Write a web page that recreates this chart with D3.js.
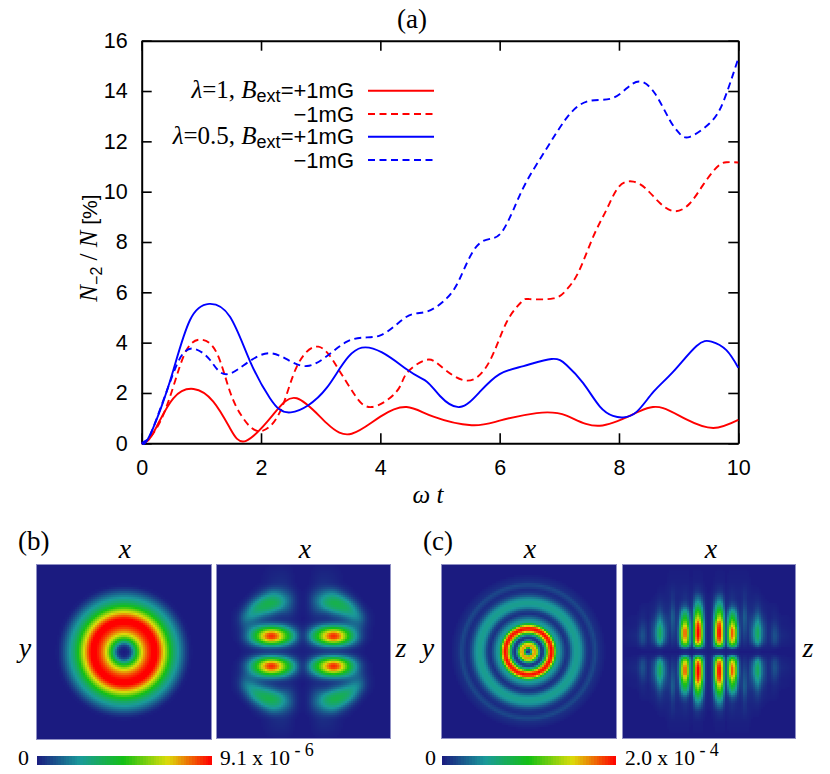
<!DOCTYPE html>
<html>
<head>
<meta charset="utf-8">
<style>
  html, body { margin: 0; padding: 0; background: #fff; }
  svg { display: block; }
</style>
</head>
<body>
<svg id="chart" width="830" height="774"></svg>
<script src="https://cdn.jsdelivr.net/npm/d3@7"></script>
<script>
// panel (a): population curves
const redSolidT = [0, 0.1, 0.25, 0.53, 0.87, 1.2, 1.48, 1.75, 2.2, 2.6, 3.1, 3.52, 4, 4.44, 4.89, 5.53, 6, 6.62, 7.12, 7.68, 8.35, 8.74, 9.13, 9.58, 10];
const redSolidV = [0, 0.1, 0.66, 1.79, 2.16, 1.66, 0.6, 0.1, 1.13, 1.79, 0.8, 0.38, 1.06, 1.44, 1.06, 0.72, 0.9, 1.2, 1.1, 0.7, 1.28, 1.4, 0.95, 0.61, 0.93];

const redDashT = [0, 0.1, 0.31, 0.53, 0.75, 1, 1.26, 1.48, 1.7, 1.98, 2.32, 2.6, 2.96, 3.27, 3.55, 3.85, 4.27, 4.44, 4.75, 5, 5.45, 5.84, 6.12, 6.37, 6.5, 6.9, 7.12, 7.32, 7.57, 7.79, 8, 8.24, 8.46, 8.69, 8.94, 9.19, 9.41, 9.64, 9.8, 10];
const redDashV = [0, 0.12, 0.86, 2.25, 3.7, 4.12, 3.58, 2.05, 1, 0.48, 1.26, 3.05, 3.84, 3.05, 2, 1.44, 2.05, 2.78, 3.3, 3.09, 2.49, 3.3, 4.83, 5.63, 5.73, 5.76, 6.1, 6.8, 8.22, 9.28, 10.2, 10.4, 10.1, 9.54, 9.22, 9.54, 10.27, 10.97, 11.17, 11.16];

const blueSolidT = [0, 0.1, 0.31, 0.53, 0.81, 1.13, 1.48, 1.82, 2.15, 2.5, 3.1, 3.69, 4.44, 4.78, 5, 5.33, 5.67, 6, 6.4, 6.87, 7.12, 7.4, 7.68, 7.9, 8.07, 8.3, 8.58, 8.91, 9.3, 9.55, 9.8, 10];
const blueSolidV = [0, 0.15, 1.32, 2.9, 4.9, 5.54, 5.03, 3.24, 1.79, 1.23, 2.2, 3.8, 2.94, 2.45, 1.88, 1.44, 2.05, 2.75, 3.07, 3.35, 3.11, 2.39, 1.46, 1.09, 1.03, 1.26, 2.05, 2.85, 3.87, 4.04, 3.7, 3];

const blueDashT = [0, 0.08, 0.2, 0.53, 0.7, 0.87, 1.15, 1.48, 2.12, 2.77, 3.44, 3.99, 4.44, 4.78, 5.11, 5.335, 5.61, 5.89, 6.06, 6.23, 6.45, 6.79, 7.12, 7.46, 7.85, 8.13, 8.35, 8.6, 8.85, 9.02, 9.19, 9.52, 9.75, 10];
const blueDashV = [0, 0.12, 0.66, 2.78, 3.58, 3.76, 3.3, 2.77, 3.58, 3.07, 4.04, 4.28, 5.03, 5.23, 5.76, 6.56, 7.82, 8.15, 8.48, 9.28, 10.4, 11.73, 12.92, 13.58, 13.69, 14.11, 14.38, 13.91, 12.85, 12.3, 12.18, 12.72, 13.58, 15.3];

const xTicks = [0, 2, 4, 6, 8, 10];
const yTicks = [0, 2, 4, 6, 8, 10, 12, 14, 16];

// density panels: radius in px -> fraction of colour bar max
const bRadius = [0, 4, 7, 10, 13, 17, 20, 24, 28, 33, 36, 39, 42, 46, 50, 54, 58, 62, 66, 70];
const bDensity = [0, 0.02, 0.1, 0.3, 0.5, 0.72, 0.82, 0.93, 1, 1, 0.9, 0.78, 0.66, 0.48, 0.34, 0.25, 0.16, 0.07, 0.01, 0];

const cRadius = [0, 1.5, 3, 5, 7, 9, 11, 13, 15, 17, 19, 21, 23, 25, 27, 29, 32, 35, 38, 41, 44, 47, 50, 53, 56, 59, 62, 64, 67, 70, 74, 78];
const cDensity = [0.1, 0.05, 0.3, 0.8, 0.82, 0.65, 0.25, 0.05, 0.08, 0.3, 0.6, 0.9, 1, 0.9, 0.55, 0.28, 0.22, 0.12, 0.04, 0.08, 0.2, 0.27, 0.27, 0.22, 0.12, 0.05, 0.03, 0.06, 0.09, 0.04, 0.02, 0];

// x-z panels: one quadrant, u across and v away from the mid line, in px
const bU = [0, 6, 12, 18, 24, 31, 38, 45, 52, 58, 64, 72, 90];
const bV = [0, 3, 6, 10, 14.7, 20, 25, 29, 34, 40, 46, 52, 58, 66, 90];
const bGrid = [
  [0.01, 0.01, 0.02, 0.02, 0.02, 0.02, 0.02, 0.02, 0.01, 0.01, 0, 0, 0],
  [0.01, 0.02, 0.04, 0.07, 0.09, 0.1, 0.09, 0.06, 0.03, 0.01, 0, 0, 0],
  [0.01, 0.05, 0.12, 0.22, 0.28, 0.3, 0.28, 0.2, 0.1, 0.03, 0, 0, 0],
  [0.02, 0.12, 0.3, 0.5, 0.68, 0.8, 0.68, 0.42, 0.22, 0.08, 0.01, 0, 0],
  [0.02, 0.2, 0.45, 0.64, 0.92, 1.1, 0.92, 0.58, 0.3, 0.12, 0.02, 0, 0],
  [0.02, 0.14, 0.32, 0.52, 0.7, 0.82, 0.7, 0.45, 0.25, 0.1, 0.02, 0, 0],
  [0.01, 0.05, 0.12, 0.22, 0.28, 0.3, 0.28, 0.22, 0.16, 0.12, 0.03, 0, 0],
  [0, 0.01, 0.03, 0.05, 0.06, 0.07, 0.08, 0.1, 0.14, 0.15, 0.04, 0, 0],
  [0, 0.01, 0.03, 0.03, 0.03, 0.06, 0.1, 0.18, 0.26, 0.2, 0.04, 0, 0],
  [0, 0.02, 0.08, 0.12, 0.15, 0.25, 0.32, 0.36, 0.28, 0.12, 0.02, 0, 0],
  [0, 0.03, 0.12, 0.22, 0.36, 0.42, 0.42, 0.36, 0.18, 0.04, 0, 0, 0],
  [0, 0.03, 0.14, 0.24, 0.34, 0.38, 0.34, 0.18, 0.05, 0, 0, 0, 0],
  [0, 0.02, 0.08, 0.14, 0.2, 0.22, 0.12, 0.04, 0, 0, 0, 0, 0],
  [0, 0, 0.02, 0.04, 0.04, 0.03, 0.01, 0, 0, 0, 0, 0, 0],
  [0, 0, 0, 0, 0, 0, 0, 0, 0, 0, 0, 0, 0]
];

const cU = [0, 3.5, 7, 10, 13, 16, 17.3, 20, 23.5, 27, 30, 33, 36, 39, 44, 49, 54, 60, 66, 72, 90];
const cV = [0, 3, 5, 10, 16, 22, 28, 34, 40, 46, 52, 60, 70, 90];
const cGrid = [
  [0, 0.01, 0.01, 0.01, 0.01, 0.01, 0, 0.01, 0.01, 0.01, 0, 0, 0, 0, 0, 0.01, 0, 0, 0, 0, 0],
  [0.01, 0.02, 0.04, 0.05, 0.04, 0.02, 0.01, 0.03, 0.05, 0.03, 0.01, 0.01, 0.01, 0.01, 0.01, 0.02, 0.01, 0.01, 0.01, 0, 0],
  [0.01, 0.05, 0.32, 0.5, 0.42, 0.1, 0.02, 0.25, 0.4, 0.28, 0.05, 0.01, 0.03, 0.01, 0.03, 0.12, 0.03, 0.01, 0.04, 0.01, 0],
  [0.01, 0.06, 0.6, 0.92, 0.8, 0.2, 0.03, 0.5, 0.8, 0.55, 0.12, 0.02, 0.06, 0.02, 0.12, 0.32, 0.1, 0.02, 0.1, 0.02, 0],
  [0.01, 0.06, 0.68, 1.05, 0.88, 0.22, 0.03, 0.55, 0.97, 0.65, 0.15, 0.03, 0.09, 0.03, 0.16, 0.4, 0.13, 0.02, 0.12, 0.03, 0],
  [0.01, 0.06, 0.68, 1.05, 0.88, 0.22, 0.03, 0.55, 0.97, 0.65, 0.15, 0.04, 0.12, 0.04, 0.16, 0.4, 0.13, 0.02, 0.1, 0.02, 0],
  [0.01, 0.06, 0.62, 0.97, 0.84, 0.2, 0.03, 0.42, 0.72, 0.5, 0.1, 0.05, 0.14, 0.05, 0.12, 0.3, 0.1, 0.02, 0.06, 0.01, 0],
  [0.01, 0.05, 0.46, 0.74, 0.64, 0.16, 0.03, 0.3, 0.52, 0.35, 0.08, 0.05, 0.16, 0.05, 0.08, 0.2, 0.06, 0.01, 0.03, 0.01, 0],
  [0.01, 0.04, 0.34, 0.56, 0.48, 0.12, 0.03, 0.18, 0.32, 0.22, 0.05, 0.04, 0.14, 0.04, 0.04, 0.11, 0.03, 0.01, 0.02, 0, 0],
  [0.01, 0.03, 0.22, 0.36, 0.3, 0.08, 0.02, 0.06, 0.12, 0.08, 0.03, 0.03, 0.09, 0.03, 0.03, 0.06, 0.02, 0.01, 0.01, 0, 0],
  [0.01, 0.02, 0.12, 0.2, 0.17, 0.05, 0.02, 0.03, 0.05, 0.03, 0.02, 0.02, 0.06, 0.02, 0.02, 0.03, 0.01, 0, 0, 0, 0],
  [0, 0.01, 0.03, 0.05, 0.05, 0.02, 0.01, 0.02, 0.03, 0.02, 0.02, 0.02, 0.04, 0.02, 0.01, 0.01, 0, 0, 0, 0, 0],
  [0, 0, 0.01, 0.01, 0.01, 0.01, 0, 0.01, 0.01, 0.01, 0.01, 0.01, 0.01, 0.01, 0, 0, 0, 0, 0, 0, 0],
  [0, 0, 0, 0, 0, 0, 0, 0, 0, 0, 0, 0, 0, 0, 0, 0, 0, 0, 0, 0, 0]
];

const colourStops = [0, 0.25, 0.5, 0.75, 1];
const colourValues = ['#1b1b80', '#1a9a9a', '#14c014', '#dcdc0a', '#ff0000'];

const svg = d3.select('#chart');
const colour = d3.scaleLinear().domain(colourStops).range(colourValues).clamp(true);

// ---- panel (a) ----
const x = d3.scaleLinear().domain([0, 10]).range([141.7, 738.3]);
const y = d3.scaleLinear().domain([0, 16]).range([443.3, 40.7]);
const TICK = 10;

function styleAxis(g) {
  g.select('.domain').attr('stroke', '#000').attr('stroke-width', 2);
  g.selectAll('.tick line').attr('stroke', '#000').attr('stroke-width', 1.6);
  g.selectAll('.tick text').attr('font-size', 21.5).attr('font-family', '"Liberation Sans", sans-serif').attr('fill', '#000');
}

svg.append('g').attr('transform', `translate(0,${y(0)})`)
  .call(d3.axisBottom(x).tickValues(xTicks).tickSizeInner(-TICK).tickSizeOuter(0).tickPadding(16))
  .call(styleAxis);
svg.append('g').attr('transform', `translate(0,${y(16)})`)
  .call(d3.axisTop(x).tickValues(xTicks).tickSizeInner(-TICK).tickSizeOuter(0).tickFormat(''))
  .call(styleAxis);
svg.append('g').attr('transform', `translate(${x(0)},0)`)
  .call(d3.axisLeft(y).tickValues(yTicks).tickSizeInner(-TICK).tickSizeOuter(0).tickPadding(14))
  .call(styleAxis);
svg.append('g').attr('transform', `translate(${x(10)},0)`)
  .call(d3.axisRight(y).tickValues(yTicks).tickSizeInner(-TICK).tickSizeOuter(0).tickFormat(''))
  .call(styleAxis);

const curves = [
  { t: redSolidT, v: redSolidV, stroke: '#ff0000', dash: null },
  { t: redDashT, v: redDashV, stroke: '#ff0000', dash: '7,4.5' },
  { t: blueSolidT, v: blueSolidV, stroke: '#0000ff', dash: null },
  { t: blueDashT, v: blueDashV, stroke: '#0000ff', dash: '7,4.5' },
];
const line = d3.line().x(d => x(d[0])).y(d => y(d[1])).curve(d3.curveNatural);

svg.append('g').selectAll('path').data(curves).join('path')
  .attr('d', c => line(d3.zip(c.t, c.v)))
  .attr('fill', 'none')
  .attr('stroke', c => c.stroke)
  .attr('stroke-width', 1.9)
  .attr('stroke-dasharray', c => c.dash);

// text helper
function richText(px, py, anchor, size, runs, transform) {
  const t = svg.append('text').attr('x', px).attr('y', py)
    .attr('text-anchor', anchor).attr('font-size', size).attr('fill', '#000');
  if (transform) t.attr('transform', transform);
  for (const r of runs) {
    const s = t.append('tspan').text(r.s)
      .attr('font-family', r.serif ? '"Liberation Serif", serif' : '"Liberation Sans", sans-serif');
    if (r.italic) s.attr('font-style', 'italic');
    if (r.dy) s.attr('dy', r.dy);
    if (r.size) s.attr('font-size', r.size);
  }
  return t;
}
const ser = (s, o = {}) => ({ s, serif: true, ...o });
const san = (s, o = {}) => ({ s, serif: false, ...o });

richText(412, 28, 'middle', 27, [ser('(a)')]);
richText(428, 503, 'middle', 25, [ser('ω', { italic: true }), ser(' t', { italic: true })]);
richText(0, 0, 'middle', 25, [
  ser('N', { italic: true }), san('−2', { dy: 5, size: 16 }), ser(' / ', { dy: -5 }), ser('N', { italic: true }), san('  [%]', { size: 21 }),
], 'translate(97,248) rotate(-90)');

// legend
const legendRows = [
  { y: 90.7, runs: [ser('λ', { italic: true, size: 25 }), ser('=1, ', { size: 25 }), ser('B', { italic: true, size: 25 }), san('ext', { dy: 4, size: 18 }), san('=+1mG', { dy: -4 })] },
  { y: 114, runs: [san('−1mG')] },
  { y: 136.7, runs: [ser('λ', { italic: true, size: 25 }), ser('=0.5, ', { size: 25 }), ser('B', { italic: true, size: 25 }), san('ext', { dy: 4, size: 18 }), san('=+1mG', { dy: -4 })] },
  { y: 160, runs: [san('−1mG')] },
];
legendRows.forEach((row, i) => {
  richText(354, row.y + 7.5, 'end', 22, row.runs);
  svg.append('line').attr('x1', 368).attr('x2', 434).attr('y1', row.y).attr('y2', row.y)
    .attr('stroke', curves[i].stroke).attr('stroke-width', 1.9).attr('stroke-dasharray', curves[i].dash);
});

// ---- density panels ----
const CELL = 2;

function radialField(rs, vals) {
  const f = d3.scaleLinear().domain(rs).range(vals).clamp(true);
  return (dx, dy) => f(Math.hypot(dx, dy));
}

function gridField(us, vs, grid, soft) {
  const iu = d3.scaleLinear().domain(us).range(d3.range(us.length)).clamp(true);
  const iv = d3.scaleLinear().domain(vs).range(d3.range(vs.length)).clamp(true);
  const sample = (dx, dy) => {
    const a = iu(Math.abs(dx)), b = iv(Math.abs(dy));
    const i = Math.min(Math.floor(a), us.length - 2), j = Math.min(Math.floor(b), vs.length - 2);
    const fa = a - i, fb = b - j;
    const p = d3.interpolateNumber(grid[j][i], grid[j][i + 1])(fa);
    const q = d3.interpolateNumber(grid[j + 1][i], grid[j + 1][i + 1])(fa);
    return p + (q - p) * fb;
  };
  // average the neighbours so the coarse grid doesn't show as diamonds
  const offs = [-soft, -soft / 2, 0, soft / 2, soft];
  return (dx, dy) => d3.mean(d3.cross(offs, offs), o => sample(dx + o[0], dy + o[1]));
}

function drawPanel(box, cx, cy, field) {
  const g = svg.append('g');
  g.append('rect').attr('x', box[0] - 0.5).attr('y', box[1] - 0.5)
    .attr('width', box[2] - box[0] + 1).attr('height', box[3] - box[1] + 1)
    .attr('fill', colour(0)).attr('stroke', '#8f8fc4').attr('stroke-width', 1);
  const cells = [];
  for (const py of d3.range(box[1], box[3], CELL)) {
    for (const px of d3.range(box[0], box[2], CELL)) {
      const val = field(px + CELL / 2 - cx, py + CELL / 2 - cy);
      if (val > 0.004) cells.push({ px, py, val });
    }
  }
  g.selectAll('rect.cell').data(cells).join('rect')
    .attr('class', 'cell')
    .attr('x', d => d.px).attr('y', d => d.py)
    .attr('width', d => Math.min(CELL, box[2] - d.px))
    .attr('height', d => Math.min(CELL, box[3] - d.py))
    .attr('fill', d => colour(d.val))
    .attr('shape-rendering', 'crispEdges');
}

drawPanel([37, 565, 211, 739], 124, 652, radialField(bRadius, bDensity));
drawPanel([217, 565, 390, 738], 302.5, 651.2, gridField(bU, bV, bGrid, 3));
drawPanel([442, 565, 616, 738], 528.3, 651.7, radialField(cRadius, cDensity));
drawPanel([623, 565, 795, 738], 708.7, 651.7, gridField(cU, cV, cGrid, 1));

// colour bars
function drawBar(x0, x1) {
  const scale = d3.scaleLinear().domain([0, 1]).range([x0, x1]);
  const steps = d3.range(0, 64).map(i => i / 64);
  svg.append('g').selectAll('rect').data(steps).join('rect')
    .attr('x', d => scale(d)).attr('y', 756)
    .attr('width', (x1 - x0) / 64 + 0.5).attr('height', 9)
    .attr('fill', d => colour(d + 1 / 128))
    .attr('shape-rendering', 'crispEdges');
}
drawBar(36.5, 211);
drawBar(442, 615.7);

// labels round the density panels
richText(18, 550, 'start', 27, [ser('(b)')]);
richText(423, 550, 'start', 27, [ser('(c)')]);
[[125, 558, 'x'], [305, 558, 'x'], [530, 558, 'x'], [711, 558, 'x'], [25, 657, 'y'], [428, 657, 'y'], [401, 657, 'z'], [808, 657, 'z']]
  .forEach(l => richText(l[0], l[1], 'middle', 28, [ser(l[2], { italic: true })]));

richText(18, 765, 'start', 22, [ser('0')]);
richText(425, 765, 'start', 22, [ser('0')]);
richText(220, 765, 'start', 21.5, [ser('9.1 x 10'), ser(' - 6', { dy: -9, size: 18 })]);
richText(625, 765, 'start', 21.5, [ser('2.0 x 10'), ser(' - 4', { dy: -9, size: 18 })]);
</script>
</body>
</html>
